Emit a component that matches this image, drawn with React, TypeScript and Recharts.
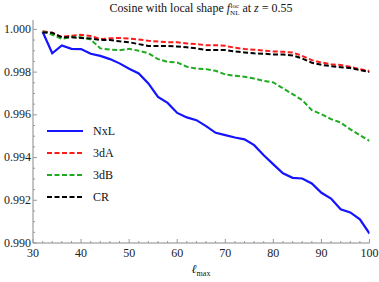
import { LineChart, Line, XAxis, YAxis } from "recharts";

// l_max values sampled every 2
const ell = [32, 34, 36, 38, 40, 42, 44, 46, 48, 50, 52, 54, 56, 58, 60, 62, 64, 66, 68, 70, 72, 74, 76, 78, 80, 82, 84, 86, 88, 90, 92, 94, 96, 98, 100];

const nxl = [0.99989, 0.99888, 0.99925, 0.99909, 0.99908, 0.99886, 0.99876, 0.99861, 0.99841, 0.99816, 0.99794, 0.99747, 0.99684, 0.99656, 0.99609, 0.99588, 0.99575, 0.99547, 0.99516, 0.99505, 0.99494, 0.99485, 0.99458, 0.99411, 0.99368, 0.99326, 0.99305, 0.99302, 0.99279, 0.99235, 0.99208, 0.99158, 0.99143, 0.99111, 0.99044];
const dA = [0.99991, 0.99984, 0.99965, 0.9997, 0.99975, 0.99969, 0.99955, 0.99958, 0.9996, 0.99957, 0.99953, 0.99947, 0.99943, 0.9994, 0.9994, 0.99934, 0.99931, 0.99926, 0.99926, 0.99923, 0.99914, 0.99908, 0.99905, 0.99901, 0.99897, 0.99895, 0.99892, 0.99876, 0.99856, 0.99845, 0.99837, 0.99833, 0.99825, 0.99814, 0.99805];
const dB = [0.99991, 0.99975, 0.99956, 0.99965, 0.99963, 0.99953, 0.99911, 0.99906, 0.99902, 0.99909, 0.999, 0.99888, 0.99861, 0.99848, 0.99845, 0.99825, 0.99816, 0.99814, 0.99806, 0.99789, 0.99783, 0.99778, 0.9977, 0.99759, 0.99752, 0.99724, 0.99697, 0.99669, 0.99622, 0.99603, 0.9958, 0.99564, 0.99532, 0.99505, 0.99478];
const cr = [0.99986, 0.99984, 0.99963, 0.99963, 0.9996, 0.99957, 0.9995, 0.9995, 0.99944, 0.9994, 0.99931, 0.99922, 0.99922, 0.99922, 0.9992, 0.99916, 0.99911, 0.99904, 0.99904, 0.99903, 0.99897, 0.99892, 0.99888, 0.99886, 0.99883, 0.99882, 0.99878, 0.99864, 0.99844, 0.99834, 0.99828, 0.99823, 0.99819, 0.9981, 0.998];

const xMajor = [30, 40, 50, 60, 70, 80, 90, 100];
const xTicks = [30, 32, 34, 36, 38, 40, 42, 44, 46, 48, 50, 52, 54, 56, 58, 60, 62, 64, 66, 68, 70, 72, 74, 76, 78, 80, 82, 84, 86, 88, 90, 92, 94, 96, 98, 100];
const yMajor = [0.99, 0.992, 0.994, 0.996, 0.998, 1.0];
const yTicks = [0.99, 0.9905, 0.991, 0.9915, 0.992, 0.9925, 0.993, 0.9935, 0.994, 0.9945, 0.995, 0.9955, 0.996, 0.9965, 0.997, 0.9975, 0.998, 0.9985, 0.999, 0.9995, 1.0];

const series = [
  { key: "nxl", name: "NxL", color: "#1414ff", dash: undefined, width: 2.2 },
  { key: "dA", name: "3dA", color: "#ff1a1a", dash: "5 2.5", width: 2 },
  { key: "dB", name: "3dB", color: "#1faa1f", dash: "5 2.5", width: 2 },
  { key: "cr", name: "CR", color: "#000000", dash: "5 2.5", width: 2 },
];

const data = ell.map((l, i) => ({ l, nxl: nxl[i], dA: dA[i], dB: dB[i], cr: cr[i] }));

const FONT = "'Liberation Serif', 'DejaVu Serif', serif";
const TICK = "#999999";
const FRAME = "#888888";

const isMajor = (arr: number[], v: number) => arr.some((m) => Math.abs(m - v) < 1e-7);

const BottomTick = (p: any) => {
  const v = p.payload.value;
  const major = isMajor(xMajor, v);
  return (
    <g>
      <line x1={p.x} x2={p.x} y1={p.y} y2={p.y - (major ? 4 : 2)} stroke={TICK} />
      {major && (
        <text x={p.x} y={p.y + 14} textAnchor="middle" fontFamily={FONT} fontSize={12} fill="#222">
          {v}
        </text>
      )}
    </g>
  );
};

const TopTick = (p: any) => {
  const major = isMajor(xMajor, p.payload.value);
  return <line x1={p.x} x2={p.x} y1={p.y} y2={p.y + (major ? 4 : 2)} stroke={TICK} />;
};

const LeftTick = (p: any) => {
  const v = p.payload.value;
  const major = isMajor(yMajor, v);
  return (
    <g>
      <line x1={p.x} x2={p.x + (major ? 4 : 2)} y1={p.y} y2={p.y} stroke={TICK} />
      {major && (
        <text x={p.x - 2} y={p.y + 3.5} textAnchor="end" fontFamily={FONT} fontSize={12} fill="#222">
          {v.toFixed(3)}
        </text>
      )}
    </g>
  );
};

const RightTick = (p: any) => {
  const major = isMajor(yMajor, p.payload.value);
  return <line x1={p.x} x2={p.x - (major ? 4 : 2)} y1={p.y} y2={p.y} stroke={TICK} />;
};

const legendTop = [131, 153, 175, 197];

export default function App() {
  return (
    <div style={{ position: "absolute", left: 0, top: 0, width: 379, height: 282, fontFamily: FONT, color: "#111" }}>
      <LineChart width={379} height={282} data={data} margin={{ top: 20, right: 9.5, bottom: 0, left: 0 }}>
        <XAxis
          dataKey="l"
          type="number"
          domain={[30, 100]}
          allowDataOverflow
          ticks={xTicks}
          interval={0}
          height={39}
          tickSize={0}
          tickMargin={0}
          tickLine={false}
          axisLine={{ stroke: FRAME }}
          tick={BottomTick}
        />
        <XAxis
          xAxisId="top"
          orientation="top"
          dataKey="l"
          type="number"
          domain={[30, 100]}
          allowDataOverflow
          ticks={xTicks}
          interval={0}
          height={0}
          tickSize={0}
          tickMargin={0}
          tickLine={false}
          axisLine={{ stroke: FRAME }}
          tick={TopTick}
        />
        <YAxis
          type="number"
          domain={[0.99, 1.00044]}
          allowDataOverflow
          ticks={yTicks}
          interval={0}
          width={33}
          tickSize={0}
          tickMargin={0}
          tickLine={false}
          axisLine={{ stroke: FRAME }}
          tick={LeftTick}
        />
        <YAxis
          yAxisId="right"
          orientation="right"
          type="number"
          domain={[0.99, 1.00044]}
          allowDataOverflow
          ticks={yTicks}
          interval={0}
          width={0}
          tickSize={0}
          tickMargin={0}
          tickLine={false}
          axisLine={{ stroke: FRAME }}
          tick={RightTick}
        />
        {series.map((s) => (
          <Line
            key={s.key}
            dataKey={s.key}
            name={s.name}
            type="linear"
            stroke={s.color}
            strokeWidth={s.width}
            strokeDasharray={s.dash}
            dot={false}
            activeDot={false}
            isAnimationActive={false}
          />
        ))}
      </LineChart>

      {/* title */}
      <div style={{ position: "absolute", left: 33, width: 336, top: 0, textAlign: "center", fontSize: 12, lineHeight: "16px", whiteSpace: "nowrap" }}>
        Cosine with local shape <i>f</i>
        <span style={{ display: "inline-flex", flexDirection: "column", verticalAlign: "middle", fontSize: 7, lineHeight: "8px", marginRight: 3 }}>
          <span style={{ height: 7, overflow: "visible" }}>loc</span>
          <span style={{ height: 7, overflow: "visible" }}>NL</span>
        </span>
        at <i>z</i> = 0.55
      </div>

      {/* x label */}
      <div style={{ position: "absolute", left: 33, width: 336, top: 261, textAlign: "center", fontSize: 12, lineHeight: "16px" }}>
        <i>ℓ</i>
        <span style={{ fontSize: 8, position: "relative", top: 3 }}>max</span>
      </div>

      {/* legend */}
      {series.map((s, i) => (
        <div key={s.key} style={{ position: "absolute", left: 47, top: legendTop[i] - 8, height: 16, display: "flex", alignItems: "center", fontSize: 12 }}>
          <svg width={37} height={16}>
            <line x1={0} x2={36} y1={8} y2={8} stroke={s.color} strokeWidth={s.width} strokeDasharray={s.dash} />
          </svg>
          <span style={{ marginLeft: 9 }}>{s.name}</span>
        </div>
      ))}
    </div>
  );
}
